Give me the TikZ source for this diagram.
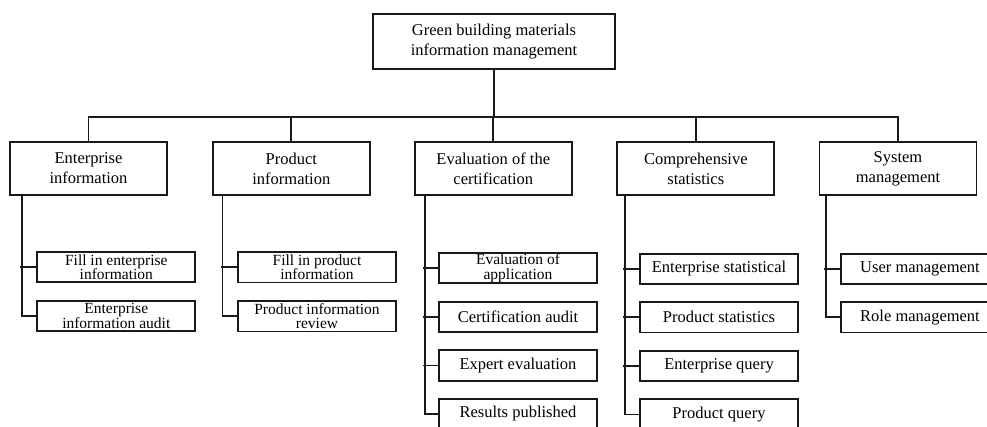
\documentclass[tikz,border=0pt]{standalone}
\usepackage{fontspec}
\setmainfont{Liberation Serif}
\usetikzlibrary{calc}
\tikzset{
  line/.style={line width=1.8pt, draw=black!90},
  rootbox/.style={line, draw, fill=white, minimum width=242pt, minimum height=55pt, inner sep=0pt, align=center, font=\fontsize{16.5}{20}\selectfont},
  catbox/.style={line, draw, fill=white, minimum width=157pt, minimum height=53.6pt, inner sep=0pt, align=center, font=\fontsize{16.5}{20}\selectfont},
  leafbox/.style={line, draw, fill=white, minimum width=158pt, minimum height=30.5pt, inner sep=0pt, align=center, font=\fontsize{16.5}{20}\selectfont},
  twoline/.style={font=\fontsize{15.5}{14.5}\selectfont},
}
\begin{document}
\begin{tikzpicture}[x=1pt,y=-1pt]
\useasboundingbox (0,0) rectangle (987,426);
\clip (0,0) rectangle (987,426);
\fill[white] (0,0) rectangle (987,426);

\node[rootbox] (root) at (494,41.5) {Green building materials\\information management};

\node[catbox] (ca) at (88.5,168.5) {Enterprise\\information};
\node[catbox] (cb) at (291.3,168.5) {Product\\information};
\node[catbox] (cc) at (493.3,168.5) {Evaluation of the\\certification};
\node[catbox] (cd) at (695.8,168.5) {Comprehensive\\statistics};
\node[catbox] (ce) at (898,168.5) {System\\management};

\coordinate (bus) at (0,117);
\draw[line] (root.south) -- (root.south |- bus);
\draw[line] (ca.north) -- (ca.north |- bus) -- (ce.north |- bus) -- (ce.north);
\draw[line] (cb.north) -- (cb.north |- bus);
\draw[line] (cc.north) -- (cc.north |- bus);
\draw[line] (cd.north) -- (cd.north |- bus);

% Enterprise information
\node[leafbox,twoline] (a1) at (116.3,267) {Fill in enterprise\\information};
\node[leafbox,twoline] (a2) at (116.3,316) {Enterprise\\information audit};
% Product information
\node[leafbox,twoline] (b1) at (317,267.3) {Fill in product\\information};
\node[leafbox,twoline] (b2) at (317,316.3) {Product information\\review};
% Evaluation
\node[leafbox,twoline] (c1) at (518,268) {Evaluation of\\application};
\node[leafbox] (c2) at (518,317) {Certification audit};
\node[leafbox] (c3) at (518,365.5) {Expert evaluation};
\node[leafbox] (c4) at (518,414) {Results published};
% Comprehensive statistics
\node[leafbox] (d1) at (719,269) {Enterprise statistical};
\node[leafbox] (d2) at (719,317.3) {Product statistics};
\node[leafbox] (d3) at (719,366) {Enterprise query};
\node[leafbox] (d4) at (719,414.5) {Product query};
% System management
\node[leafbox] (e1) at (920,269) {User management};
\node[leafbox] (e2) at (920,317.3) {Role management};

\coordinate (ta) at ($(ca.south west)+(13,0)$);
\coordinate (tb) at ($(cb.south west)+(10.6,0)$);
\coordinate (tc) at ($(cc.south west)+(11,0)$);
\coordinate (td) at ($(cd.south west)+(8.7,0)$);
\coordinate (te) at ($(ce.south west)+(7.4,0)$);

\draw[line] (ta) |- (a2.west);
\draw[line] ([xshift=-2pt]ta |- a1.west) -- (a1.west);

\draw[line] (tb) |- (b2.west);
\draw[line] ([xshift=-2pt]tb |- b1.west) -- (b1.west);

\draw[line] (tc) |- (c4.west);
\draw[line] ([xshift=-2pt]tc |- c1.west) -- (c1.west);
\draw[line] ([xshift=-2pt]tc |- c2.west) -- (c2.west);
\draw[line] ([xshift=-2pt]tc |- c3.west) -- (c3.west);

\draw[line] (td) |- (d4.west);
\draw[line] ([xshift=-2pt]td |- d1.west) -- (d1.west);
\draw[line] ([xshift=-2pt]td |- d2.west) -- (d2.west);
\draw[line] ([xshift=-2pt]td |- d3.west) -- (d3.west);

\draw[line] (te) |- (e2.west);
\draw[line] ([xshift=-2pt]te |- e1.west) -- (e1.west);
\end{tikzpicture}
\end{document}
